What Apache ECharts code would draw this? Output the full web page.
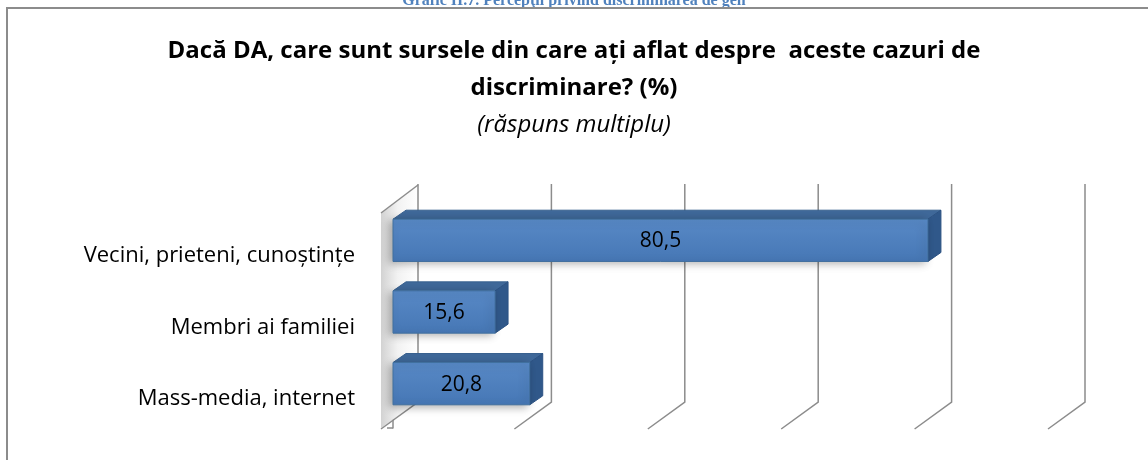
<!DOCTYPE html>
<html>
<head>
<meta charset="utf-8">
<script src="https://cdn.jsdelivr.net/npm/echarts@6/dist/echarts.min.js"></script>
<style>
  html, body { margin: 0; padding: 0; background: #fff; }
  #chart { width: 1148px; height: 460px; }
</style>
</head>
<body>
<div id="chart"></div>
<script>
var categories = ['Vecini, prieteni, cunoștințe', 'Membri ai familiei', 'Mass-media, internet'];
var values = [80.5, 15.6, 20.8];
var gridValues = [0, 20, 40, 60, 80, 100];

var FONT = '"Open Sans", Lato, sans-serif';
var DX = 13, DY = -9;        // depth of the bars
var WX = 37, WY = -28;       // depth of the walls
var LINE = '#8c8c8c';

var chart = echarts.init(document.getElementById('chart'));

function renderFrame(params, api) {
  var cs = params.coordSys;
  var top = cs.y, bottom = cs.y + cs.height;
  var xf = api.coord([api.value(0), 0])[0];
  var children = [];
  if (params.dataIndex === 0) {
    children.push({
      type: 'polygon',
      shape: { points: [[xf - 12, top], [xf - 12 + WX, top + WY], [xf - 12 + WX, bottom + WY + 2], [xf - 12, bottom]] },
      style: {
        fill: new echarts.graphic.LinearGradient(0, 0, 1, 0, [
          { offset: 0, color: '#d2d2d2' },
          { offset: 0.45, color: '#f2f2f2' },
          { offset: 1, color: '#ffffff' }
        ]),
        stroke: null
      }
    });
    children.push({
      type: 'polyline',
      shape: { points: [[xf - 12, top], [xf - 12 + WX, top + WY]] },
      style: { stroke: LINE, lineWidth: 1.5, fill: null }
    });
  }
  children.push({
    type: 'polyline',
    shape: { points: [[xf + 25, top + WY - 1], [xf + 25, bottom + WY + 2], [xf - 12, bottom + 1]] },
    style: { stroke: LINE, lineWidth: 1.5, fill: null }
  });
  return { type: 'group', children: children };
}

function renderBar(params, api) {
  var i = api.value(1);
  var v = api.value(0);
  var p0 = api.coord([0, i]);
  var p1 = api.coord([v, i]);
  var band = api.size([0, 1])[1];
  var h = band * 0.59;
  var cy = p0[1] - 8.5;
  var x0 = p0[0], x1 = p1[0] - 2;
  var yt = cy - h / 2, yb = cy + h / 2;
  return {
    type: 'group',
    children: [
      {
        type: 'polygon',
        shape: { points: [[x0, yt], [x0 + DX, yt + DY], [x1 + DX, yt + DY], [x1, yt]] },
        style: { fill: '#3f6899', stroke: '#37608f', lineWidth: 1 }
      },
      {
        type: 'polygon',
        shape: { points: [[x1, yt], [x1 + DX, yt + DY], [x1 + DX, yb + DY], [x1, yb]] },
        style: { fill: '#30588a', stroke: '#2c5283', lineWidth: 1 }
      },
      {
        type: 'rect',
        shape: { x: x0, y: yt, width: x1 - x0, height: h },
        style: {
          fill: new echarts.graphic.LinearGradient(0, 0, 0, 1, [
            { offset: 0, color: '#5889c6' },
            { offset: 1, color: '#4677b5' }
          ]),
          stroke: '#41709f',
          lineWidth: 1,
          shadowBlur: 8,
          shadowColor: 'rgba(0,0,0,0.3)',
          shadowOffsetX: -3,
          shadowOffsetY: 2
        }
      },
      {
        type: 'text',
        style: {
          text: String(v).replace('.', ','),
          x: (x0 + x1) / 2,
          y: cy + 1,
          align: 'center',
          verticalAlign: 'middle',
          font: '21px ' + FONT,
          fill: '#000'
        }
      }
    ]
  };
}

var option = {
  animation: false,
  backgroundColor: '#fff',
  title: {
    text: 'Dacă DA, care sunt sursele din care ați aflat despre  aceste cazuri de\ndiscriminare? (%)',
    subtext: '(răspuns multiplu)',
    left: 'center',
    top: 33,
    itemGap: 0,
    padding: 0,
    textStyle: { fontFamily: FONT, fontSize: 24, fontWeight: 'bold', color: '#000', lineHeight: 37 },
    subtextStyle: { fontFamily: FONT, fontSize: 24, fontStyle: 'italic', color: '#000', lineHeight: 37 }
  },
  graphic: [
    {
      type: 'text',
      left: 'center',
      top: -7,
      style: { text: 'Grafic II.7. Percepţii privind discriminarea de gen', font: 'bold 16px "Liberation Serif", serif', fill: '#4f81bd' }
    },
    {
      type: 'rect',
      shape: { x: 7, y: 8, width: 1300, height: 600 },
      style: { fill: null, stroke: '#8c8c8c', lineWidth: 2 }
    }
  ],
  grid: { left: 393, right: 88, top: 213, bottom: 32 },
  xAxis: {
    type: 'value',
    min: 0,
    max: 100,
    interval: 20,
    axisLabel: { show: false },
    axisLine: { show: false },
    axisTick: { show: false },
    splitLine: { show: false }
  },
  yAxis: {
    type: 'category',
    inverse: true,
    data: categories,
    offset: 12,
    axisLine: { show: true, lineStyle: { color: LINE, width: 1.5 } },
    axisTick: { show: true, length: 6, lineStyle: { color: LINE, width: 1.5 } },
    axisLabel: { fontFamily: FONT, fontSize: 22, color: '#000', margin: 26, verticalAlign: 'top', lineHeight: 14 },
    splitLine: { show: false }
  },
  series: [
    {
      type: 'custom',
      name: 'frame',
      silent: true,
      renderItem: renderFrame,
      data: gridValues.map(function (g) { return [g, 0]; }),
      encode: { x: 0, y: 1 },
      z: 1
    },
    {
      type: 'custom',
      name: 'Surse',
      renderItem: renderBar,
      data: values.map(function (v, i) { return [v, i]; }),
      encode: { x: 0, y: 1 },
      z: 2
    }
  ]
};

chart.setOption(option);
</script>
</body>
</html>
